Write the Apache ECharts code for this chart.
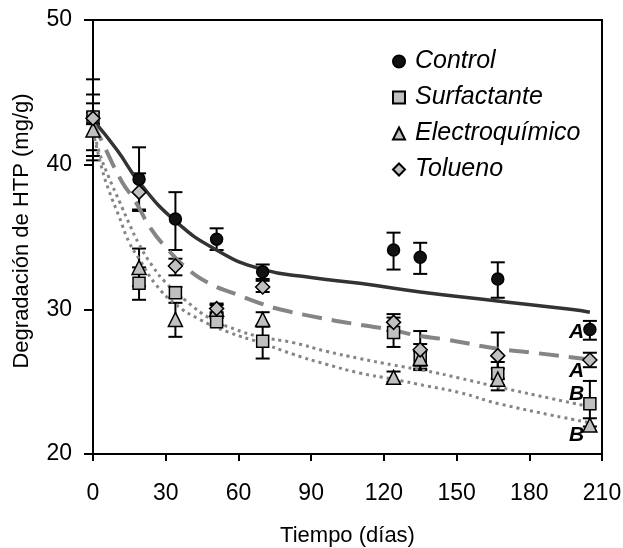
<!DOCTYPE html>
<html>
<head>
<meta charset="utf-8">
<script src="https://cdn.jsdelivr.net/npm/echarts@6/dist/echarts.min.js"></script>
<style>
  html, body { margin: 0; padding: 0; background: #fff; }
  #chart { width: 623px; height: 548px; }
</style>
</head>
<body>
<div id="chart"></div>
<script>
// dias de muestreo
var days = [0, 19, 34, 51, 70, 124, 135, 167, 205];

// Control
var controlVals = [43.3, 39.0, 36.25, 34.85, 32.6, 34.1, 33.6, 32.1, 28.6];
var controlLow = [40.3, 36.9, 34.1, 34.1, 32.1, 32.75, 32.45, 30.8, 27.9];
var controlHigh = [45.9, 41.2, 38.1, 35.6, 33.1, 35.3, 34.6, 33.25, 29.2];

// Surfactante
var surfVals = [43.3, 31.8, 31.15, 29.15, 27.8, 28.4, 26.7, 25.56, 23.48];
var surfLow = [41.0, 30.66, 30.8, 28.9, 26.6, 27.4, 25.8, 24.76, 21.9];
var surfHigh = [44.85, 32.9, 31.55, 29.4, 28.9, 29.43, 27.6, 26.36, 25.05];

// Electroquimico
var elecVals = [42.4, 32.9, 29.3, 30.0, 29.3, 25.3, 26.6, 25.17, 22.0];
var elecLow = [40.6, 31.6, 28.1, 29.7, 28.8, 25.0, 26.1, 24.4, 21.6];
var elecHigh = [44.24, 34.2, 30.45, 30.3, 29.8, 25.7, 27.1, 25.9, 22.47];

// Tolueno
var toluVals = [43.2, 38.1, 33.0, 30.05, 31.55, 29.1, 27.2, 26.8, 26.5];
var toluLow = [42.8, 36.8, 32.35, 29.8, 31.2, 28.5, 25.9, 25.2, 26.0];
var toluHigh = [43.6, 39.4, 33.5, 30.4, 31.97, 29.67, 28.5, 28.4, 27.0];

// curvas ajustadas
var controlFitT = [0, 10, 19, 34, 51.5, 69, 90, 110, 135, 166, 197, 205];
var controlFitY = [43.1, 41.0, 38.8, 36.1, 34.05, 32.8, 32.2, 31.8, 31.2, 30.6, 30.0, 29.8];

var toluFitT = [0, 4, 12, 17, 23.8, 30, 38.3, 47.3, 59, 68.7, 78.3, 89.4, 100.4, 111.4, 122.5, 133.5, 146, 168, 181.7, 204];
var toluFitY = [42.9, 41.5, 38.8, 37.6, 35.6, 34.3, 32.9, 31.85, 31.05, 30.43, 29.95, 29.55, 29.2, 28.9, 28.6, 28.2, 27.9, 27.25, 27.0, 26.55];

var surfFitT = [0, 2.9, 6.6, 10.8, 15, 19, 24.5, 30, 38.3, 48, 59, 69, 82.5, 96.3, 110, 123.8, 137.7, 151.4, 168, 204];
var surfFitY = [42.5, 40.7, 39.1, 37.5, 35.9, 34.5, 33.0, 31.85, 30.6, 29.4, 28.6, 28.1, 27.7, 27.1, 26.6, 26.15, 25.74, 25.24, 24.6, 23.3];

var elecFitT = [0, 3.9, 6.6, 10.8, 15, 19, 26, 34, 44, 56.3, 69, 82.5, 96.3, 110, 123.8, 137.7, 151.4, 168, 204];
var elecFitY = [42.3, 39.6, 38.2, 36.4, 34.6, 33.5, 31.7, 30.36, 29.3, 28.4, 27.7, 26.9, 26.2, 25.6, 25.17, 24.7, 24.24, 23.45, 22.2];

// letras de significancia
var letters = ['A', 'A', 'B', 'B'];
var letterT = [199.5, 199.5, 199.5, 199.5];
var letterY = [28.4, 25.7, 24.1, 21.3];

var FONT = '"Liberation Sans", Arial, sans-serif';
var GRAY = '#c0c0c0';

function zip(a, b) {
  return a.map(function (v, i) { return [v, b[i]]; });
}

function errorSeries(low, high) {
  return {
    type: 'custom',
    clip: false,
    silent: true,
    z: 3,
    data: days.map(function (d, i) { return [d, low[i], high[i]]; }),
    renderItem: function (params, api) {
      var p1 = api.coord([api.value(0), api.value(1)]);
      var p2 = api.coord([api.value(0), api.value(2)]);
      var w = 7;
      var st = { stroke: '#000', lineWidth: 2 };
      return {
        type: 'group',
        children: [
          { type: 'line', shape: { x1: p1[0], y1: p1[1], x2: p2[0], y2: p2[1] }, style: st },
          { type: 'line', shape: { x1: p1[0] - w, y1: p1[1], x2: p1[0] + w, y2: p1[1] }, style: st },
          { type: 'line', shape: { x1: p2[0] - w, y1: p2[1], x2: p2[0] + w, y2: p2[1] }, style: st }
        ]
      };
    }
  };
}

function pointSeries(name, vals, symbol, size, color) {
  return {
    name: name,
    type: 'scatter',
    symbol: symbol,
    symbolSize: size,
    clip: false,
    z: 5,
    itemStyle: { color: color, borderColor: '#000', borderWidth: 1.5, opacity: 1 },
    data: zip(days, vals)
  };
}

function fitSeries(t, y, color, width, dash) {
  return {
    type: 'line',
    smooth: true,
    symbol: 'none',
    silent: true,
    z: 4,
    lineStyle: { color: color, width: width, type: dash },
    data: zip(t, y)
  };
}

var chart = echarts.init(document.getElementById('chart'));

var option = {
  backgroundColor: '#fff',
  animation: false,
  textStyle: { fontFamily: FONT },
  grid: {
    left: 93, right: 21, top: 20, bottom: 94,
    outerBoundsMode: 'none',
    show: true, borderColor: '#000', borderWidth: 2
  },
  legend: {
    orient: 'vertical',
    left: 387,
    top: 44,
    itemWidth: 12,
    itemHeight: 12,
    itemGap: 11,
    textStyle: { fontSize: 25, fontStyle: 'italic', color: '#000', fontFamily: FONT, padding: [0, 0, 0, 5] },
    data: ['Control', 'Surfactante', 'Electroquímico', 'Tolueno']
  },
  xAxis: {
    type: 'value',
    min: 0, max: 210, interval: 30,
    name: 'Tiempo (días)',
    nameLocation: 'middle',
    nameGap: 71,
    nameTextStyle: { fontSize: 22, color: '#000', fontFamily: FONT },
    axisLine: { lineStyle: { color: '#000', width: 2 } },
    axisTick: { show: true, length: 7, lineStyle: { color: '#000', width: 2 } },
    axisLabel: { fontSize: 23, color: '#000', margin: 28, fontFamily: FONT },
    splitLine: { show: false }
  },
  yAxis: {
    type: 'value',
    min: 20, max: 50, interval: 10,
    name: 'Degradación de HTP (mg/g)',
    nameLocation: 'middle',
    nameRotate: 90,
    nameGap: 60,
    nameTextStyle: { fontSize: 22, color: '#000', fontFamily: FONT, padding: [0, 0, 0, 12] },
    axisLine: { show: true, lineStyle: { color: '#000', width: 2 } },
    axisTick: { show: true, length: 9, lineStyle: { color: '#000', width: 2 } },
    axisLabel: { fontSize: 23, color: '#000', margin: 21, fontFamily: FONT },
    splitLine: { show: false }
  },
  series: [
    fitSeries(controlFitT, controlFitY, '#333333', 3.5, 'solid'),
    fitSeries(toluFitT, toluFitY, '#858585', 4, [20, 10]),
    fitSeries(surfFitT, surfFitY, '#858585', 3, [3, 4]),
    fitSeries(elecFitT, elecFitY, '#858585', 3, [3, 4]),
    errorSeries(controlLow, controlHigh),
    errorSeries(surfLow, surfHigh),
    errorSeries(elecLow, elecHigh),
    errorSeries(toluLow, toluHigh),
    pointSeries('Control', controlVals, 'circle', 12, '#111'),
    pointSeries('Surfactante', surfVals, 'rect', 12, GRAY),
    pointSeries('Electroquímico', elecVals, 'triangle', 14, GRAY),
    pointSeries('Tolueno', toluVals, 'diamond', 14, GRAY),
    {
      type: 'scatter',
      symbolSize: 0,
      silent: true,
      clip: false,
      z: 6,
      itemStyle: { color: '#000' },
      label: {
        show: true,
        position: 'inside',
        fontSize: 21,
        fontWeight: 'bold',
        fontStyle: 'italic',
        color: '#000',
        opacity: 1,
        textBorderWidth: 0,
        fontFamily: FONT,
        formatter: function (p) { return letters[p.dataIndex]; }
      },
      data: zip(letterT, letterY)
    }
  ]
};

chart.setOption(option);
</script>
</body>
</html>
